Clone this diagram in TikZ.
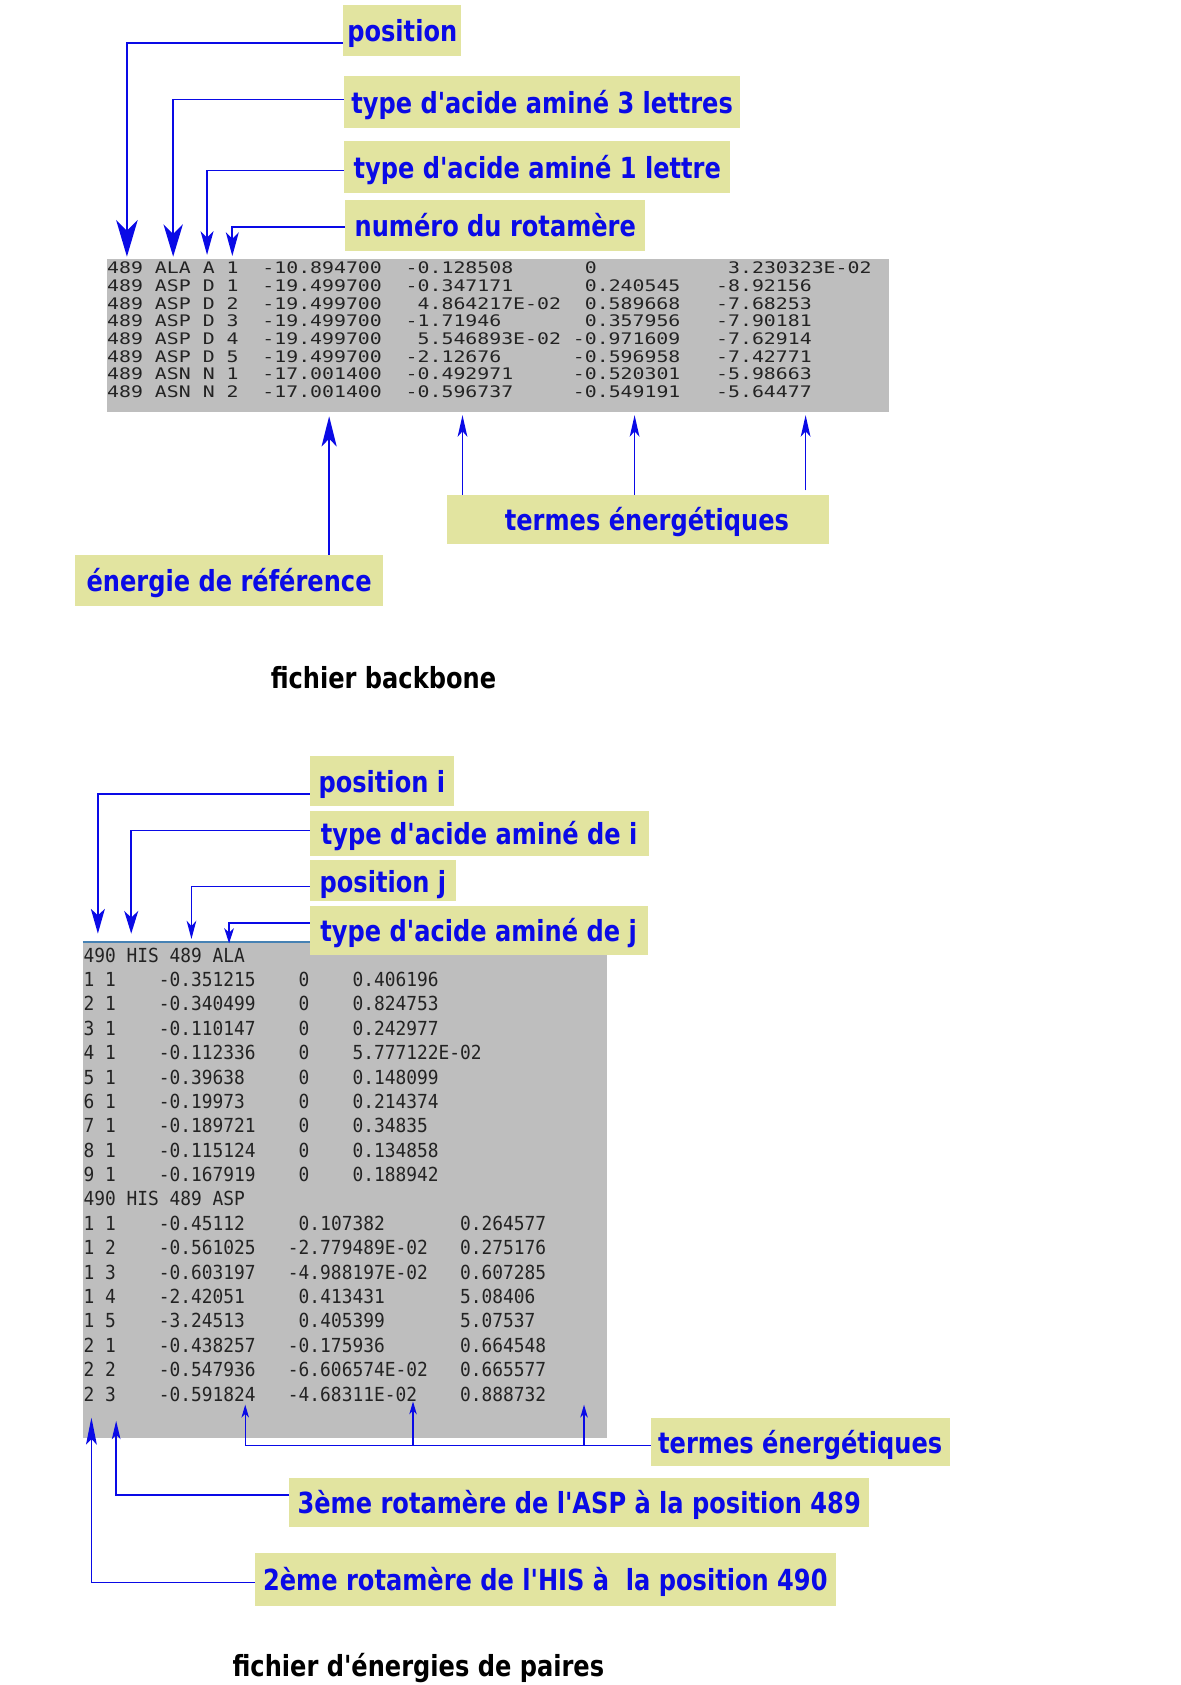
\documentclass[tikz,border=0pt]{standalone}
\usepackage{fontspec}
\usetikzlibrary{arrows.meta}
\newfontfamily\lblfont[FakeStretch=0.83,Ligatures=TeXOff]{DejaVu Sans}
\newfontfamily\topmono[FakeStretch=1.246]{DejaVu Sans Mono}
\newfontfamily\botmono[FakeStretch=0.923]{DejaVu Sans Mono}
\definecolor{lblfill}{RGB}{226,228,160}
\definecolor{lblblue}{RGB}{10,10,230}
\definecolor{tblgray}{RGB}{190,190,190}
\definecolor{tbltext}{RGB}{35,35,35}
\definecolor{steel}{RGB}{70,130,180}
\frenchspacing
\begin{document}
\begin{tikzpicture}[x=1pt,y=-1pt,
  lbl/.style={fill=lblfill, text=lblblue, font=\lblfont\bfseries\fontsize{27}{32}\selectfont,
    inner sep=0pt, text height=26pt, text depth=5pt, anchor=center},
  capt/.style={text=black, font=\lblfont\bfseries\fontsize{27}{32}\selectfont,
    inner sep=0pt, text height=26pt, text depth=5pt},
  graybox/.style={fill=tblgray, inner sep=0pt, anchor=north west},
  toprow/.style={text=tbltext, font=\topmono\fontsize{14.8}{16}\selectfont, inner sep=0pt, anchor=base west},
  botrow/.style={text=tbltext, font=\botmono\fontsize{18}{22}\selectfont, inner sep=0pt, anchor=base west},
  conn/.style={draw=lblblue, line width=1.6pt},
  thinconn/.style={draw=lblblue, line width=1.1pt},
  tipXL/.style={-{Stealth[length=34pt,width=20pt,inset=10pt]}},
  tipL/.style={-{Stealth[length=30pt,width=18pt,inset=9pt]}},
  tipM/.style={-{Stealth[length=22pt,width=12pt,inset=6pt]}},
  tipS/.style={-{Stealth[length=17pt,width=9pt,inset=5pt]}},
  tipXS/.style={-{Stealth[length=12pt,width=7pt,inset=3.5pt]}}
]
\path[use as bounding box, fill=white] (0,0) rectangle (1098,1566.6);

% ---------------- backbone file ----------------
\node[graybox, minimum width=727pt, minimum height=142pt] (bbgray) at (99,241) {};
\foreach \r [count=\i from 0] in {
489~ALA~A~1~~-10.894700~~-0.128508~~~~~~0~~~~~~~~~~~3.230323E-02,
489~ASP~D~1~~-19.499700~~-0.347171~~~~~~0.240545~~~-8.92156,
489~ASP~D~2~~-19.499700~~~4.864217E-02~~0.589668~~~-7.68253,
489~ASP~D~3~~-19.499700~~-1.71946~~~~~~~0.357956~~~-7.90181,
489~ASP~D~4~~-19.499700~~~5.546893E-02~-0.971609~~~-7.62914,
489~ASP~D~5~~-19.499700~~-2.12676~~~~~~-0.596958~~~-7.42771,
489~ASN~N~1~~-17.001400~~-0.492971~~~~~-0.520301~~~-5.98663,
489~ASN~N~2~~-17.001400~~-0.596737~~~~~-0.549191~~~-5.64477}
  \node[toprow] (bb\i) at (99.5,{254.5+16.43*\i}) {\r};

\node[lbl, minimum width=110pt, minimum height=47pt] (posbox) at (374,28.5) {position};
\node[lbl, minimum width=368pt, minimum height=48pt] (t3box) at (504,95) {type d'acide aminé 3 lettres};
\node[lbl, minimum width=359pt, minimum height=48pt] (t1box) at (499.5,155) {type d'acide aminé 1 lettre};
\node[lbl, minimum width=279pt, minimum height=47pt] (numbox) at (460.5,209.5) {numéro du rotamère};

\coordinate (tipPos) at (118,238.6);
\coordinate (tipT3) at (161,238.6);
\coordinate (tipT1) at (192.5,237);
\coordinate (tipNum) at (216,238);
\draw[conn, tipXL] ([yshift=-11.8pt]posbox.west) -| (tipPos);
\draw[conn, tipL] ([yshift=2.6pt]t3box.west) -| (tipT3);
\draw[conn, tipM] ([yshift=-3.4pt]t1box.west) -| (tipT1);
\draw[conn, tipM] ([yshift=-1.8pt]numbox.west) -| (tipNum);

\node[lbl, minimum width=355pt, minimum height=46pt] (termesA) at (593.5,483) {\hspace*{16pt}termes énergétiques};
\node[lbl, minimum width=286pt, minimum height=47pt] (refbox) at (213,539.5) {énergie de référence};

\coordinate (tA1) at (430,386);
\coordinate (tA2) at (590,386);
\coordinate (tA3) at (749,386);
\coordinate (tRef) at (306,387);
\draw[conn, -{Stealth[length=20pt,width=9pt,inset=5pt]}] (tA1 |- termesA.north) -- (tA1);
\draw[conn, -{Stealth[length=20pt,width=9pt,inset=5pt]}] (tA2 |- termesA.north) -- (tA2);
\draw[thinconn, line width=1.3pt, -{Stealth[length=20pt,width=9pt,inset=5pt]}] ([yshift=4pt]tA3 |- termesA.north) -- (tA3);
\draw[conn, -{Stealth[length=28pt,width=14pt,inset=7pt]}] (tRef |- refbox.north) -- (tRef);

\node[capt] (capA) at (356.5,630) {fichier backbone};

% ---------------- pair energies file ----------------
\node[graybox, minimum width=487pt, minimum height=461pt] (bpgray) at (77,876) {};
\coordinate (steelEnd) at (290,876);
\draw[steel, line width=2pt] (bpgray.north west) -- (steelEnd);

\foreach \r [count=\i from 0] in {
490~HIS~489~ALA,
1~1~~~~-0.351215~~~~0~~~~0.406196,
2~1~~~~-0.340499~~~~0~~~~0.824753,
3~1~~~~-0.110147~~~~0~~~~0.242977,
4~1~~~~-0.112336~~~~0~~~~5.777122E-02,
5~1~~~~-0.39638~~~~~0~~~~0.148099,
6~1~~~~-0.19973~~~~~0~~~~0.214374,
7~1~~~~-0.189721~~~~0~~~~0.34835,
8~1~~~~-0.115124~~~~0~~~~0.134858,
9~1~~~~-0.167919~~~~0~~~~0.188942,
490~HIS~489~ASP,
1~1~~~~-0.45112~~~~~0.107382~~~~~~~0.264577,
1~2~~~~-0.561025~~~-2.779489E-02~~~0.275176,
1~3~~~~-0.603197~~~-4.988197E-02~~~0.607285,
1~4~~~~-2.42051~~~~~0.413431~~~~~~~5.08406,
1~5~~~~-3.24513~~~~~0.405399~~~~~~~5.07537,
2~1~~~~-0.438257~~~-0.175936~~~~~~~0.664548,
2~2~~~~-0.547936~~~-6.606574E-02~~~0.665577,
2~3~~~~-0.591824~~~-4.68311E-02~~~~0.888732}
  \node[botrow] (bp\i) at (77.5,{894.5+22.67*\i}) {\r};

\node[lbl, minimum width=134pt, minimum height=46pt] (posibox) at (355,726) {position i};
\node[lbl, minimum width=315pt, minimum height=42pt] (tdibox) at (445.5,775) {type d'acide aminé de i};
\node[lbl, minimum width=136pt, minimum height=38pt] (posjbox) at (356,819) {position j};
\node[lbl, minimum width=314pt, minimum height=46pt] (tdjbox) at (445,865) {type d'acide aminé de j};

\coordinate (tipPi) at (91,868);
\coordinate (tipTi) at (122,868);
\coordinate (tipPj) at (178,873);
\coordinate (tipTj) at (213,877);
\draw[conn, line width=1.4pt, -{Stealth[length=23pt,width=13pt,inset=6pt]}] ([yshift=-12pt]posibox.west) -| (tipPi);
\draw[conn, line width=1.4pt, -{Stealth[length=21pt,width=13pt,inset=6pt]}] ([yshift=3pt]tdibox.west) -| (tipTi);
\draw[conn, line width=1.2pt, tipS] ([yshift=-5pt]posjbox.west) -| (tipPj);
\draw[conn, line width=1.2pt, -{Stealth[length=14pt,width=9pt,inset=4pt]}] ([yshift=7pt]tdjbox.west) -| (tipTj);

\node[lbl, minimum width=278pt, minimum height=45pt] (termesB) at (744,1340.5) {termes énergétiques};
\node[lbl, minimum width=539pt, minimum height=46pt] (aspbox) at (538.5,1397) {3ème rotamère de l'ASP à la position 489};
\node[lbl, minimum width=540pt, minimum height=49pt] (hisbox) at (507,1468.5) {2ème rotamère de l'HIS à~~la position 490};

\coordinate (hB) at ([yshift=-3.5pt]termesB.west);
\coordinate (tB1) at (228,1306);
\coordinate (tB2) at (384,1303);
\coordinate (tB3) at (543,1306);
\draw[conn, line width=1.5pt] (hB) -- (hB -| tB1);
\draw[thinconn, tipXS] (hB -| tB1) -- (tB1);
\draw[thinconn, tipXS] (hB -| tB2) -- (tB2);
\draw[thinconn, tipXS] (hB -| tB3) -- (tB3);

\coordinate (tipAsp) at (108,1321);
\coordinate (tipHis) at (85,1318);
\draw[conn, line width=1.3pt, -{Stealth[length=17pt,width=8pt,inset=4pt]}] ([yshift=7pt]aspbox.west) -| (tipAsp);
\draw[conn, line width=1.3pt, -{Stealth[length=25pt,width=10pt,inset=5pt]}] ([yshift=-3pt]hisbox.west) -| (tipHis);

\node[capt] (capB) at (389,1548.5) {fichier d'énergies de paires};
\end{tikzpicture}
\end{document}
